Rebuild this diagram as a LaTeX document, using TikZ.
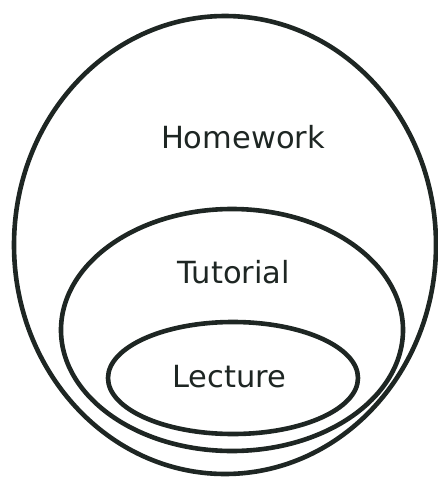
\documentclass[tikz,border=0pt]{standalone}
\usepackage{fontspec}
\setmainfont{DejaVu Sans}
\usetikzlibrary{shapes.geometric}
\definecolor{ink}{HTML}{1E2623}
\tikzset{
  ring/.style={draw=ink, line width=4.6pt, ellipse, inner sep=0pt},
  lbl/.style={font=\fontsize{30.5}{36}\selectfont, text=ink, inner sep=0pt}
}
\begin{document}
\begin{tikzpicture}[x=1pt,y=-1pt]
\useasboundingbox (0,0) rectangle (438,477);
\node[ring, minimum width=422pt, minimum height=458pt] (hw) at (225,245) {};
\node[ring, minimum width=342pt, minimum height=242pt] (tu) at (232,330) {};
\node[ring, minimum width=250pt, minimum height=112pt] (le) at (233,378) {};
\node[lbl] (thw) at (243,137) {Homework};
\node[lbl] (ttu) at (234,272) {Tutorial};
\node[lbl] (tle) at (229,377) {Lecture};
\end{tikzpicture}
\end{document}
